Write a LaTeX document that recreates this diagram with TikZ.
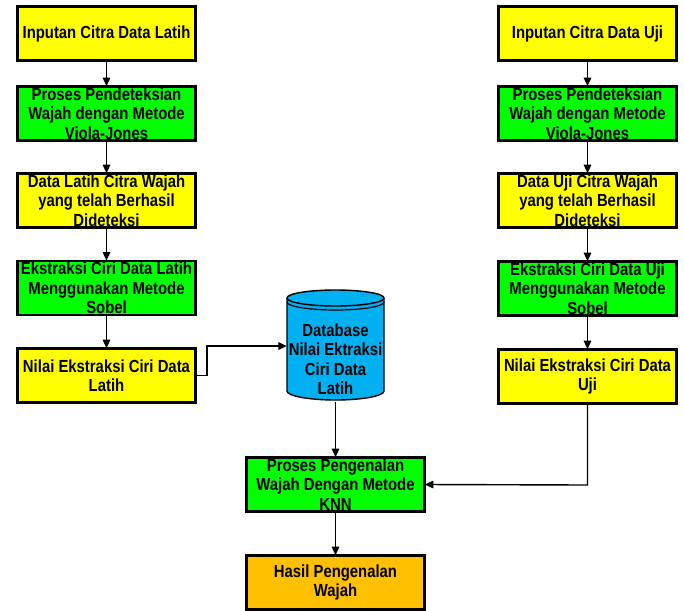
\documentclass[tikz,border=0pt]{standalone}
\usepackage{fontspec}
\newfontfamily\boxfont[FakeStretch=0.85]{Liberation Sans}
\usetikzlibrary{arrows.meta}
\definecolor{cyel}{RGB}{255,255,0}
\definecolor{cgrn}{RGB}{0,255,0}
\definecolor{corg}{RGB}{255,192,0}
\definecolor{cblu}{RGB}{0,176,240}
\begin{document}
\begin{tikzpicture}[x=1pt,y=-1pt,
  box/.style={draw=black, line width=1.6pt, minimum width=177pt, minimum height=53pt,
    inner sep=0pt, align=center, font=\boxfont\bfseries\fontsize{17.5}{19.5}\selectfont},
  ybox/.style={box, fill=cyel},
  gbox/.style={box, fill=cgrn},
  obox/.style={box, fill=corg},
  link/.style={draw=black, line width=1.4pt, -{Triangle[length=8.5pt,width=7.5pt]}},
  plain/.style={draw=black, line width=1.4pt}]
\useasboundingbox (0,0) rectangle (684,610);

% left column
\node[ybox] (l1) at (106.5,33.5) {Inputan Citra Data Latih};
\node[gbox] (l2) at (106.5,113.5) {Proses Pendeteksian\\Wajah dengan Metode\\Viola-Jones};
\node[ybox] (l3) at (106.5,200.5) {Data Latih Citra Wajah\\yang telah Berhasil\\Dideteksi};
\node[gbox] (l4) at (106.5,288) {Ekstraksi Ciri Data Latih\\Menggunakan Metode\\Sobel};
\node[ybox] (l5) at (106.5,375.5) {Nilai Ekstraksi Ciri Data\\Latih};

% right column
\node[ybox] (r1) at (587.5,33.5) {Inputan Citra Data Uji};
\node[gbox] (r2) at (587.5,113.5) {Proses Pendeteksian\\Wajah dengan Metode\\Viola-Jones};
\node[ybox] (r3) at (587.5,200.5) {Data Uji Citra Wajah\\yang telah Berhasil\\Dideteksi};
\node[gbox] (r4) at (587.5,288.5) {Ekstraksi Ciri Data Uji\\Menggunakan Metode\\Sobel};
\node[ybox] (r5) at (587.5,376.5) {Nilai Ekstraksi Ciri Data\\Uji};

% middle
\node[gbox] (knn) at (335.5,484.5) {Proses Pengenalan\\Wajah Dengan Metode\\KNN};
\node[obox] (res) at (335.5,582.5) {Hasil Pengenalan\\Wajah};

% redraw borders on top of text
\foreach \n in {l1,l2,l3,l4,l5,r1,r2,r3,r4,r5,knn,res}
  \draw[line width=1.6pt] (\n.north west) rectangle (\n.south east);

% database cylinder
\filldraw[fill=cblu, draw=black, line width=1.4pt]
  (287,298) -- (287,391) arc[start angle=180,end angle=360,x radius=48.5pt,y radius=9pt]
  -- (384,298) arc[start angle=0,end angle=180,x radius=48.5pt,y radius=8pt] -- cycle;
\draw[line width=1.4pt] (384,298) arc[start angle=0,end angle=-180,x radius=48.5pt,y radius=8pt];
\draw[line width=1.2pt] (384,302) arc[start angle=0,end angle=-180,x radius=48.5pt,y radius=8pt];
\node[minimum width=97pt, minimum height=111pt, inner sep=0pt] (db) at (335.5,346) {};
\node[align=center, font=\boxfont\bfseries\fontsize{17.5}{19.5}\selectfont] (dbt) at (335.5,359)
  {Database\\Nilai Ektraksi\\Ciri Data\\Latih};

% connectors
\draw[link] (l1) -- (l2);
\draw[link] (l2) -- (l3);
\draw[link] (l3) -- (l4);
\draw[link] (l4) -- (l5);
\draw[link] (r1) -- (r2);
\draw[link] (r2) -- (r3);
\draw[link] (r3) -- (r4);
\draw[link] (r4) -- (r5);
\draw[link] (l5.east) -- (207,375.5) -- (207,346) -- (db.west);
\draw[link] (db.south) -- (knn.north);
\draw[link] (r5.south) -- (587.5,485) -- (knn.east);
\draw[link] (knn) -- (res);
\end{tikzpicture}
\end{document}
